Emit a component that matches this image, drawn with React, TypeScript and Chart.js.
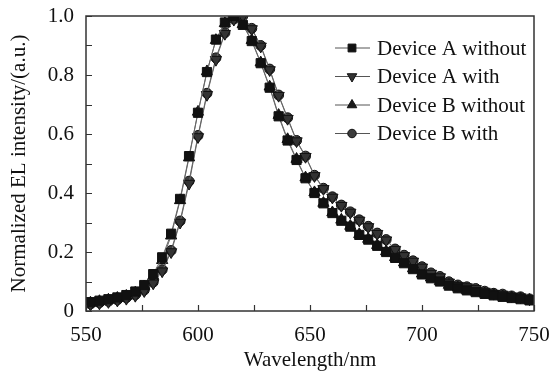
import React, { useEffect, useRef } from "react";
import { Chart, registerables } from "chart.js";

Chart.register(...registerables);

const wavelengths = [
  552, 556, 560, 564, 568, 572, 576, 580, 584, 588, 592, 596, 600, 604, 608, 612, 616, 620, 624, 628,
  632, 636, 640, 644, 648, 652, 656, 660, 664, 668, 672, 676, 680, 684, 688, 692, 696, 700, 704, 708,
  712, 716, 720, 724, 728, 732, 736, 740, 744, 748,
];

const deviceAWithout = [
  0.030, 0.035, 0.040, 0.046, 0.054, 0.066, 0.088, 0.125, 0.182, 0.262, 0.380, 0.525, 0.672, 0.810, 0.920, 0.978, 1.000, 0.970, 0.915, 0.840,
  0.757, 0.660, 0.578, 0.512, 0.450, 0.400, 0.365, 0.332, 0.306, 0.286, 0.258, 0.242, 0.221, 0.200, 0.180, 0.162, 0.142, 0.124, 0.111, 0.100,
  0.086, 0.077, 0.070, 0.064, 0.058, 0.053, 0.048, 0.044, 0.040, 0.036,
];

const deviceAWith = [
  0.022, 0.026, 0.031, 0.036, 0.042, 0.052, 0.068, 0.094, 0.135, 0.200, 0.300, 0.432, 0.590, 0.733, 0.852, 0.940, 0.988, 1.000, 0.956, 0.897,
  0.817, 0.730, 0.652, 0.576, 0.523, 0.458, 0.414, 0.385, 0.357, 0.334, 0.307, 0.285, 0.262, 0.240, 0.208, 0.187, 0.168, 0.148, 0.127, 0.115,
  0.097, 0.086, 0.081, 0.075, 0.066, 0.059, 0.056, 0.050, 0.047, 0.040,
];

const deviceBWithout = [
  0.028, 0.033, 0.038, 0.044, 0.051, 0.062, 0.083, 0.118, 0.172, 0.255, 0.375, 0.520, 0.675, 0.812, 0.918, 0.975, 1.000, 0.972, 0.918, 0.842,
  0.760, 0.664, 0.582, 0.515, 0.452, 0.402, 0.366, 0.334, 0.309, 0.288, 0.260, 0.244, 0.223, 0.202, 0.182, 0.164, 0.144, 0.126, 0.113, 0.101,
  0.088, 0.079, 0.071, 0.065, 0.059, 0.054, 0.049, 0.045, 0.041, 0.037,
];

const deviceBWith = [
  0.024, 0.028, 0.033, 0.038, 0.045, 0.055, 0.071, 0.098, 0.140, 0.205, 0.305, 0.440, 0.595, 0.738, 0.858, 0.943, 0.990, 1.000, 0.958, 0.900,
  0.820, 0.732, 0.655, 0.578, 0.525, 0.460, 0.416, 0.387, 0.359, 0.336, 0.309, 0.287, 0.264, 0.242, 0.210, 0.189, 0.170, 0.150, 0.129, 0.117,
  0.099, 0.088, 0.082, 0.076, 0.067, 0.060, 0.057, 0.051, 0.048, 0.041,
];

const seriesLabels = ["Device A without", "Device A with", "Device B without", "Device B with"];
const xTitle = "Wavelength/nm";
const yTitle = "Normalized EL intensity/(a.u.)";

const FONT = "'Liberation Serif', 'Times New Roman', serif";

type Marker = { style: string; rotation: number; radius: number; fill: string };
const markers: Marker[] = [
  { style: "rect", rotation: 0, radius: 6.5, fill: "#111" },
  { style: "triangle", rotation: 180, radius: 6.5, fill: "#333" },
  { style: "triangle", rotation: 0, radius: 6.5, fill: "#1a1a1a" },
  { style: "circle", rotation: 0, radius: 5, fill: "#3c3c3c" },
];

function drawMarker(ctx: CanvasRenderingContext2D, m: Marker, x: number, y: number, r: number) {
  ctx.beginPath();
  if (m.style === "rect") {
    const s = r * Math.SQRT1_2;
    ctx.rect(x - s, y - s, 2 * s, 2 * s);
  } else if (m.style === "circle") {
    ctx.arc(x, y, r, 0, Math.PI * 2);
  } else {
    const dir = m.rotation === 180 ? -1 : 1;
    const h = r * 1.5;
    const w = r * Math.sqrt(3);
    ctx.moveTo(x, y - dir * (h * 2 / 3));
    ctx.lineTo(x - w / 2, y + dir * (h / 3));
    ctx.lineTo(x + w / 2, y + dir * (h / 3));
    ctx.closePath();
  }
  ctx.fillStyle = m.fill;
  ctx.fill();
  ctx.strokeStyle = "#111";
  ctx.lineWidth = 1;
  ctx.stroke();
}

const framePlugin = {
  id: "frameAndLegend",
  afterDraw(chart: any) {
    const { ctx, chartArea: a, scales } = chart;
    ctx.save();
    ctx.strokeStyle = "#333";
    ctx.lineWidth = 1.5;
    ctx.strokeRect(a.left, a.top, a.right - a.left, a.bottom - a.top);
    ctx.lineWidth = 1.2;
    ctx.beginPath();
    scales.x.ticks.forEach((t: any) => {
      const px = Math.round(scales.x.getPixelForValue(t.value)) + 0.5;
      ctx.moveTo(px, a.bottom);
      ctx.lineTo(px, a.bottom - 6);
    });
    scales.y.ticks.forEach((t: any) => {
      const py = Math.round(scales.y.getPixelForValue(t.value)) + 0.5;
      ctx.moveTo(a.left, py);
      ctx.lineTo(a.left + 6, py);
    });
    ctx.stroke();

    // legend inside the plot area, top right
    const lx0 = a.right - 199;
    const lx1 = a.right - 164;
    const mx = a.right - 182;
    const tx = a.right - 157;
    const rowH = 28.5;
    const y0 = a.top + 32;
    ctx.font = `21px ${FONT}`;
    ctx.textBaseline = "middle";
    ctx.textAlign = "left";
    chart.data.datasets.forEach((ds: any, i: number) => {
      const y = y0 + i * rowH;
      ctx.strokeStyle = "#555";
      ctx.lineWidth = 1;
      ctx.beginPath();
      ctx.moveTo(lx0, y);
      ctx.lineTo(lx1, y);
      ctx.stroke();
      drawMarker(ctx, markers[i], mx, y, markers[i].radius * 0.85);
      ctx.fillStyle = "#111";
      ctx.fillText(ds.label, tx, y + 1);
    });
    ctx.restore();
  },
};

export default function App() {
  const canvasRef = useRef<HTMLCanvasElement | null>(null);

  useEffect(() => {
    document.body.style.margin = "0";
    const canvas = canvasRef.current;
    if (!canvas) return;
    const seriesData = [deviceAWithout, deviceAWith, deviceBWithout, deviceBWith];
    const datasets = seriesData.map((vals, i) => ({
      label: seriesLabels[i],
      data: vals.map((v, j) => ({ x: wavelengths[j], y: v })),
      borderColor: "#666",
      borderWidth: 1,
      pointStyle: markers[i].style,
      rotation: markers[i].rotation,
      pointRadius: markers[i].radius,
      pointBackgroundColor: markers[i].fill,
      pointBorderColor: "#111",
      pointBorderWidth: 1,
      tension: 0,
      fill: false,
    }));

    const chart = new Chart(canvas, {
      type: "line",
      data: { datasets },
      plugins: [framePlugin],
      options: {
        animation: false,
        responsive: false,
        maintainAspectRatio: false,
        layout: { padding: { top: 16, right: 19, left: 0, bottom: 0 } },
        plugins: { legend: { display: false }, tooltip: { enabled: false } },
        scales: {
          x: {
            type: "linear",
            min: 550,
            max: 750,
            grid: { display: false, drawTicks: false },
            border: { display: false },
            afterFit: (s: any) => {
              s.height = 61;
              s.paddingLeft = 0;
              s.paddingRight = 0;
            },
            ticks: {
              stepSize: 25,
              autoSkip: false,
              maxRotation: 0,
              padding: 12,
              color: "#111",
              font: { family: FONT, size: 21 },
              callback: (v: any) => (Number(v) % 50 === 0 ? String(v) : ""),
            },
            title: {
              display: true,
              text: xTitle,
              color: "#111",
              font: { family: FONT, size: 21 },
              padding: { top: 0, bottom: -1 },
            },
          },
          y: {
            type: "linear",
            min: 0,
            max: 1.0,
            grid: { display: false, drawTicks: false },
            border: { display: false },
            afterFit: (s: any) => {
              s.width = 86;
              s.paddingTop = 0;
              s.paddingBottom = 0;
            },
            ticks: {
              stepSize: 0.1,
              autoSkip: false,
              padding: 12,
              color: "#111",
              font: { family: FONT, size: 21 },
              callback: (v: any) => {
                const k = Math.round(Number(v) * 10);
                if (k % 2 !== 0) return "";
                return k === 0 ? "0" : (k / 10).toFixed(1);
              },
            },
            title: {
              display: true,
              text: yTitle,
              color: "#111",
              font: { family: FONT, size: 21 },
              padding: { top: 7, bottom: 0 },
            },
          },
        },
      },
    });
    return () => chart.destroy();
  }, []);

  return (
    <div style={{ width: 553, height: 372, background: "#fff" }}>
      <canvas ref={canvasRef} width={553} height={372} style={{ display: "block" }} />
    </div>
  );
}
